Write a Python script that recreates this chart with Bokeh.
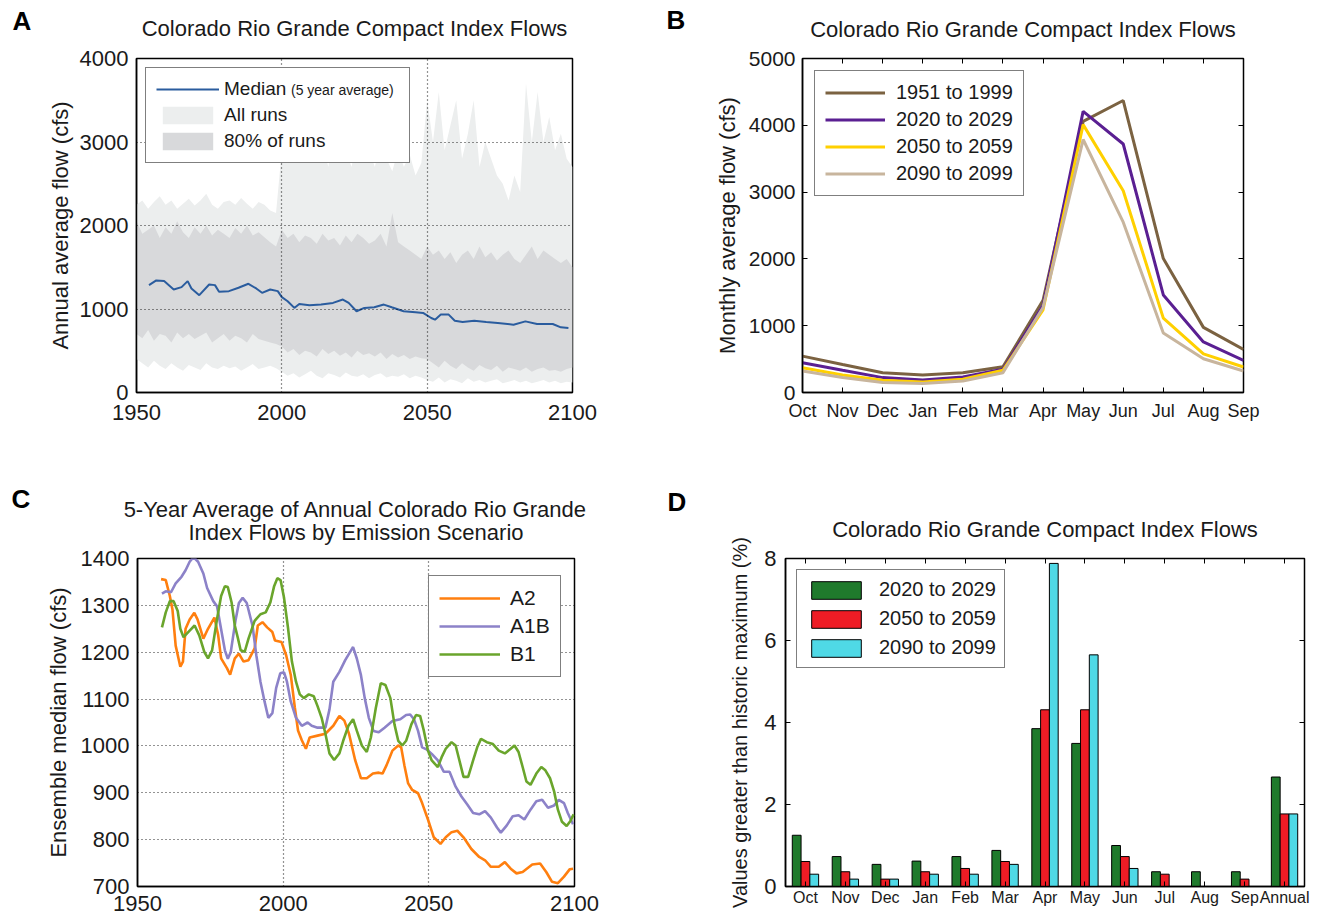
from bokeh.plotting import figure
from bokeh.models import (Range1d, FixedTicker, LinearAxis, Legend, LegendItem,
                          CustomJSTickFormatter, Div)
from bokeh.layouts import column, row
from bokeh.embed import file_html
from bokeh.resources import INLINE

FONT = "Liberation Sans"
INK = "#1a1a1a"

# ---------------- Panel A data ----------------
band_years = list(range(1950, 2101, 2))
all_upper = [2250, 2300, 2200, 2280, 2350, 2250, 2300, 2200, 2260, 2320, 2240, 2300, 2380,
             2250, 2200, 2280, 2300, 2250, 2330, 2260, 2200, 2280, 2250, 2180, 2150,
             2900, 3200, 2800, 3400, 2900, 3100, 2800, 3000, 2700, 3300, 2800, 2900, 2700,
             3100, 2750, 2900, 2700, 3000, 2800, 2650, 2900, 2700, 2850, 2600, 2750,
             3500, 3000, 3600, 2900, 3200, 3500, 2800, 3100, 3500, 2700, 3000, 2800, 2600,
             2500, 2300, 2600, 2400, 3700, 3000, 3600, 3000, 3300, 2900, 3100, 2800, 2700]
all_lower = [400, 350, 300, 380, 320, 280, 350, 300, 260, 330, 300, 270, 350,
             300, 280, 320, 290, 310, 260, 300, 340, 280, 300, 320, 290,
             250, 200, 230, 180, 220, 260, 200, 170, 230, 210, 180, 240, 200,
             190, 220, 170, 210, 230, 180, 200, 190, 220, 170, 200, 180,
             150, 130, 180, 120, 160, 140, 110, 170, 130, 150, 120, 140, 160,
             110, 130, 150, 120, 140, 110, 130, 150, 120, 140, 110, 130, 120]
p80_upper = [2050, 1900, 1950, 2000, 1850, 1980, 1900, 2050, 1920, 1850, 1980, 1900, 2000,
             1880, 1950, 1900, 1850, 1970, 1900, 2000, 1880, 1920, 1860, 1800, 1750,
             1950, 1850, 1900, 1800, 1880, 1850, 1780, 1900, 1820, 1850, 1760, 1880, 1800,
             1900, 1850, 1780, 1820, 1900, 1750, 2150, 1800, 1750, 1700, 1650, 1600,
             1750, 1650, 1700, 1600, 1680, 1550, 1650, 1700, 1600, 1750, 1620, 1680, 1580,
             1650, 1700, 1600, 1550, 1650, 1750, 1600, 1700, 1650, 1600, 1550, 1600, 1500]
p80_lower = [700, 650, 750, 620, 700, 680, 600, 720, 650, 700, 640, 680, 720,
             600, 650, 700, 620, 680, 650, 600, 700, 640, 620, 600, 580,
             550, 480, 520, 450, 500, 480, 430, 520, 460, 500, 440, 480, 420,
             500, 450, 470, 430, 480, 400, 460, 420, 450, 400, 430, 410,
             400, 350, 300, 380, 320, 280, 350, 300, 260, 330, 290, 270, 320,
             250, 300, 280, 260, 300, 250, 280, 300, 260, 270, 250, 280, 300]
med_years = [1954.3, 1956.8, 1959.5, 1962.8, 1965.5, 1967.6, 1968.9, 1971.6, 1975.0, 1977.0,
             1978.4, 1981.8, 1985.1, 1988.5, 1991.2, 1993.2, 1996.0, 1998.6, 2000.0, 2002.0,
             2004.3, 2006.0, 2009.5, 2013.5, 2017.6, 2021.0, 2023.0, 2025.7, 2028.4, 2031.8,
             2035.1, 2037.8, 2041.9, 2046.0, 2048.6, 2051.4, 2052.7, 2054.7, 2057.4, 2059.5,
             2062.2, 2066.2, 2070.3, 2074.3, 2079.7, 2083.8, 2087.8, 2093.2, 2096.0, 2098.6]
med_vals = [1286, 1342, 1335, 1234, 1262, 1334, 1246, 1166, 1294, 1286,
            1206, 1214, 1254, 1302, 1246, 1194, 1234, 1214, 1142, 1093,
            1013, 1061, 1045, 1053, 1073, 1113, 1073, 973, 1013, 1021,
            1053, 1021, 973, 961, 953, 892, 872, 933, 933, 860,
            844, 860, 844, 832, 812, 852, 820, 820, 780, 772]
a_xticks = [1950, 2000, 2050, 2100]
a_yticks = [0, 1000, 2000, 3000, 4000]

# ---------------- Panel B data ----------------
months = ["Oct", "Nov", "Dec", "Jan", "Feb", "Mar", "Apr", "May", "Jun", "Jul", "Aug", "Sep"]
b_1951_1999 = [545, 420, 297, 262, 297, 386, 1380, 4059, 4371, 2005, 975, 644]
b_2020_2029 = [446, 332, 223, 188, 233, 347, 1302, 4208, 3720, 1460, 757, 480]
b_2050_2059 = [371, 262, 183, 158, 198, 332, 1238, 4010, 3020, 1114, 579, 381]
b_2090_2099 = [322, 223, 149, 134, 173, 297, 1272, 3787, 2550, 891, 505, 322]
b_yticks = [0, 1000, 2000, 3000, 4000, 5000]

# ---------------- Panel C data ----------------
a2_x = [1958.1, 1959.7, 1961.1, 1962.0, 1963.1, 1964.7, 1965.6, 1966.5, 1967.9, 1969.5,
        1970.6, 1972.6, 1974.2, 1976.4, 1977.7, 1978.7, 1980.7, 1981.8, 1983.4, 1984.8,
        1986.4, 1988.1, 1990.2, 1991.3, 1992.9, 1994.5, 1996.3, 1997.2, 1999.4, 2001.0,
        2002.6, 2004.0, 2005.1, 2006.4, 2007.8, 2009.1, 2011.8, 2014.5, 2017.2, 2019.3,
        2021.0, 2022.6, 2024.7, 2026.7, 2028.7, 2030.8, 2032.8, 2034.1, 2035.5, 2037.5,
        2039.5, 2040.5, 2041.6, 2042.9, 2044.3, 2046.3, 2047.7, 2049.7, 2051.7, 2054.0,
        2055.8, 2057.8, 2059.8, 2061.9, 2064.6, 2067.3, 2069.3, 2071.3, 2074.0, 2076.1,
        2078.1, 2080.1, 2082.2, 2085.5, 2088.2, 2090.3, 2092.3, 2094.3, 2096.4, 2098.4,
        2099.5]
a2_y = [1356, 1354, 1320, 1291, 1214, 1169, 1180, 1250, 1270, 1284,
        1270, 1229, 1250, 1274, 1236, 1187, 1166, 1152, 1187, 1197,
        1180, 1183, 1208, 1257, 1264, 1253, 1243, 1225, 1222, 1194,
        1152, 1082, 1033, 1012, 994, 1018, 1022, 1026, 1043, 1064,
        1054, 1026, 970, 931, 931, 941, 943, 941, 959, 990,
        1001, 997, 959, 920, 906, 899, 878, 843, 805, 791,
        805, 816, 819, 805, 780, 763, 756, 742, 742, 752,
        738, 728, 731, 747, 749, 731, 710, 707, 721, 737,
        738]
a1b_x = [1958.4, 1959.7, 1961.5, 1963.1, 1965.1, 1966.5, 1967.9, 1969.2, 1970.8, 1972.6,
         1973.9, 1976.0, 1977.3, 1978.7, 1980.0, 1981.0, 1982.0, 1983.7, 1984.8, 1986.1,
         1987.5, 1989.5, 1990.8, 1992.2, 1993.6, 1994.9, 1996.3, 1997.6, 1999.0, 2000.3,
         2001.3, 2002.6, 2004.4, 2006.4, 2008.4, 2009.8, 2011.8, 2014.5, 2015.9, 2017.2,
         2019.3, 2021.3, 2023.3, 2024.0, 2025.3, 2026.7, 2028.0, 2029.4, 2031.0, 2032.8,
         2034.8, 2037.5, 2040.2, 2042.2, 2043.6, 2044.9, 2046.3, 2047.7, 2049.4, 2051.0,
         2053.1, 2055.1, 2057.1, 2059.2, 2061.2, 2063.2, 2065.2, 2067.3, 2069.3, 2071.3,
         2073.4, 2074.7, 2076.7, 2078.8, 2080.8, 2082.8, 2084.9, 2086.9, 2088.9, 2090.9,
         2093.0, 2094.6, 2096.4, 2097.7, 2099.5]
a1b_y = [1325, 1330, 1328, 1347, 1361, 1375, 1393, 1403, 1393, 1368,
         1337, 1309, 1298, 1249, 1204, 1186, 1200, 1270, 1305, 1316,
         1305, 1256, 1193, 1137, 1095, 1060, 1070, 1124, 1155, 1157,
         1137, 1095, 1060, 1043, 1050, 1043, 1039, 1039, 1078, 1137,
         1158, 1183, 1204, 1211, 1186, 1151, 1102, 1060, 1032, 1029,
         1039, 1053, 1057, 1066, 1067, 1057, 1032, 997, 992, 983,
         969, 945, 945, 913, 892, 875, 857, 854, 861, 847,
         826, 815, 830, 850, 852, 843, 864, 882, 885, 868,
         873, 885, 878, 857, 833]
b1_x = [1958.4, 1959.7, 1961.1, 1962.4, 1963.8, 1964.7, 1965.8, 1967.9, 1969.6, 1971.2,
        1972.9, 1974.2, 1975.6, 1977.3, 1978.7, 1980.0, 1981.0, 1982.3, 1983.4, 1984.5,
        1985.4, 1986.8, 1988.1, 1990.2, 1992.2, 1994.0, 1995.6, 1996.9, 1998.0, 1999.1,
        2000.3, 2001.7, 2003.0, 2004.4, 2005.7, 2007.1, 2008.8, 2010.5, 2011.8, 2013.2,
        2014.5, 2015.9, 2017.5, 2019.3, 2020.6, 2022.4, 2024.0, 2025.3, 2027.0, 2028.7,
        2030.1, 2031.8, 2033.5, 2035.1, 2036.8, 2038.2, 2039.5, 2040.9, 2042.2, 2044.0,
        2045.6, 2047.0, 2048.3, 2049.7, 2051.0, 2053.1, 2054.4, 2055.8, 2057.8, 2059.2,
        2060.5, 2061.9, 2063.5, 2065.2, 2066.6, 2067.9, 2069.9, 2072.0, 2074.0, 2076.1,
        2078.1, 2079.4, 2080.8, 2082.2, 2083.5, 2084.9, 2086.9, 2088.6, 2090.0, 2091.6,
        2093.0, 2094.3, 2095.7, 2097.3, 2098.6, 2099.7]
b1_y = [1253, 1285, 1309, 1309, 1288, 1250, 1232, 1246, 1257, 1236,
        1201, 1187, 1204, 1271, 1320, 1341, 1339, 1306, 1257, 1229,
        1204, 1201, 1229, 1267, 1281, 1285, 1306, 1341, 1358, 1354,
        1316, 1250, 1180, 1137, 1110, 1102, 1110, 1106, 1085, 1060,
        1026, 984, 970, 984, 1011, 1043, 1057, 1032, 1001, 987,
        1018, 1081, 1134, 1130, 1102, 1046, 1011, 1001, 1011, 1046,
        1066, 1064, 1032, 990, 969, 955, 976, 994, 1008, 1001,
        969, 934, 934, 969, 997, 1015, 1008, 1004, 990, 984,
        994, 1001, 987, 955, 924, 917, 941, 955, 948, 931,
        903, 864, 838, 829, 840, 854]
c_xticks = [1950, 2000, 2050, 2100]
c_yticks = [700, 800, 900, 1000, 1100, 1200, 1300, 1400]

# ---------------- Panel D data ----------------
d_categories = ["Oct", "Nov", "Dec", "Jan", "Feb", "Mar", "Apr", "May", "Jun",
                "Jul", "Aug", "Sep", "Annual"]
d_2020_2029 = [1.25, 0.73, 0.54, 0.62, 0.73, 0.88, 3.85, 3.49, 1.00, 0.36, 0.36, 0.36, 2.67]
d_2050_2059 = [0.61, 0.36, 0.18, 0.36, 0.44, 0.61, 4.31, 4.31, 0.73, 0.30, 0.00, 0.18, 1.77]
d_2090_2099 = [0.30, 0.18, 0.18, 0.30, 0.30, 0.54, 7.88, 5.65, 0.44, 0.00, 0.00, 0.00, 1.77]
d_yticks = [0, 2, 4, 6, 8]


# ---------------- helpers ----------------
def make_fig(width, height, xr, yr, left, right, top, bottom):
    p = figure(width=width, height=height, x_range=xr, y_range=yr, title=None,
               output_backend="svg", toolbar_location=None,
               min_border_left=left, min_border_right=right,
               min_border_top=top, min_border_bottom=bottom)
    p.outline_line_color = "black"
    p.outline_line_width = 1.5
    p.outline_line_alpha = 1.0
    p.background_fill_color = "white"
    p.border_fill_color = "white"
    return p


def style_axes(p, xticks, yticks, xfs, yfs, xstand, ystand, ylabel, ylfs, ylstand, ticks_in,
               xlabels=None):
    # called before any extra axis is added, so only the bottom and left axes are touched
    xax = p.below[0]
    yax = p.left[0]
    xax.ticker = FixedTicker(ticks=xticks)
    yax.ticker = FixedTicker(ticks=yticks)
    if xlabels is not None:
        xax.major_label_overrides = {t: lab for t, lab in zip(xticks, xlabels)}
    xax.major_label_text_font_size = xfs
    yax.major_label_text_font_size = yfs
    xax.major_label_standoff = xstand
    yax.major_label_standoff = ystand
    yax.axis_label = ylabel
    yax.axis_label_text_font_size = ylfs
    yax.axis_label_standoff = ylstand
    for ax in (xax, yax):
        ax.major_label_text_font = FONT
        ax.major_label_text_color = INK
        ax.axis_label_text_font = FONT
        ax.axis_label_text_font_style = "normal"
        ax.axis_label_text_color = INK
        ax.axis_line_color = "black"
        ax.axis_line_width = 1.5
        ax.minor_tick_line_color = None
        ax.major_tick_out = 0
        if ticks_in:
            ax.major_tick_in = 5
            ax.major_tick_line_color = "black"
            ax.major_tick_line_width = 1
        else:
            ax.major_tick_in = 0
            ax.major_tick_line_color = None


def top_axis(p, title, standoff, ticks=(), size="22px"):
    """Mirror axis on top of the frame (ticks only); its axis label carries the title."""
    ax = LinearAxis(ticker=FixedTicker(ticks=list(ticks)),
                    formatter=CustomJSTickFormatter(code="return ''"),
                    major_tick_in=5 if ticks else 0, major_tick_out=0,
                    major_tick_line_color="black" if ticks else None,
                    minor_tick_line_color=None, axis_line_color=None,
                    major_label_standoff=0, major_label_text_font_size="1px",
                    axis_label=title, axis_label_standoff=standoff,
                    axis_label_text_font=FONT, axis_label_text_font_size=size,
                    axis_label_text_font_style="normal", axis_label_text_color=INK)
    p.add_layout(ax, "above")


def right_axis(p, ticks):
    ax = LinearAxis(ticker=FixedTicker(ticks=list(ticks)),
                    formatter=CustomJSTickFormatter(code="return ''"),
                    major_tick_in=5, major_tick_out=0, major_tick_line_color="black",
                    minor_tick_line_color=None, axis_line_color=None,
                    major_label_standoff=0, major_label_text_font_size="1px")
    p.add_layout(ax, "right")


def dotted_grid(p, level="underlay"):
    p.grid.grid_line_color = "black"
    p.grid.grid_line_dash = "1 3"
    p.grid.grid_line_width = 1.2
    p.grid.grid_line_alpha = 0.85
    p.grid.level = level


def style_legend(leg, fs, gw, gh, spacing, padding, standoff):
    leg.label_text_font = FONT
    leg.label_text_font_size = fs
    leg.label_text_color = INK
    leg.glyph_width = gw
    leg.glyph_height = gh
    leg.label_height = gh
    leg.spacing = spacing
    leg.padding = padding
    leg.label_standoff = standoff
    leg.border_line_color = "black"
    leg.border_line_width = 1.5
    leg.background_fill_color = "white"
    leg.background_fill_alpha = 1.0


def letter_div(text, width, top):
    return Div(text=text, width=width, height=26, margin=(top, 0, 0, 0),
               styles={"font-family": FONT, "font-size": "26px", "font-weight": "bold",
                       "line-height": "26px", "text-align": "center", "color": "black",
                       "width": f"{width}px"})


# ---------------- Panel A ----------------
pA = make_fig(604, 450, Range1d(1950, 2100), Range1d(0, 4000), 91, 76, 58, 58)
style_axes(pA, a_xticks, a_yticks, "22px", "22px", 12, 8,
           "Annual average flow (cfs)", "22px", 4, ticks_in=False)
top_axis(pA, "Colorado Rio Grande Compact Index Flows", 18)
rA_all = pA.varea(x=band_years, y1=all_lower, y2=all_upper, fill_color="#eceeee")
rA_80 = pA.varea(x=band_years, y1=p80_lower, y2=p80_upper, fill_color="#d8d9db")
rA_med = pA.line(med_years, med_vals, line_color="#2a5c9e", line_width=2)
dotted_grid(pA, level="guide")
legA = Legend(items=[LegendItem(label="Median", renderers=[rA_med]),
                     LegendItem(label="All runs", renderers=[rA_all]),
                     LegendItem(label="80% of runs", renderers=[rA_80])],
              location="top_left")
style_legend(legA, "19px", 63, 22, 4, 10, 5)
legA.margin = 9
legA.label_width = 175
pA.add_layout(legA)
legA_note = Legend(items=[LegendItem(label="(5 year average)", renderers=[rA_med])],
                   location=(155, 294))
style_legend(legA_note, "14px", 0, 16, 0, 0, 0)
legA_note.border_line_color = None
legA_note.background_fill_alpha = 0.0
legA_note.margin = 0
pA.add_layout(legA_note)

# ---------------- Panel B ----------------
month_idx = list(range(len(months)))
pB = make_fig(621, 450, Range1d(0, len(months) - 1), Range1d(0, 5000), 98, 82, 55, 58)
style_axes(pB, month_idx, b_yticks, "18px", "21px", 8, 7,
           "Monthly average flow (cfs)", "22px", 6, ticks_in=True, xlabels=months)
top_axis(pB, "Colorado Rio Grande Compact Index Flows", 17, ticks=month_idx)
right_axis(pB, b_yticks)
pB.grid.grid_line_color = None
rB1 = pB.line(month_idx, b_1951_1999, line_color="#7b6241", line_width=3)
rB2 = pB.line(month_idx, b_2020_2029, line_color="#5a1f92", line_width=3)
rB3 = pB.line(month_idx, b_2050_2059, line_color="#ffd000", line_width=3)
rB4 = pB.line(month_idx, b_2090_2099, line_color="#c8b59d", line_width=3)
legB = Legend(items=[LegendItem(label="1951 to 1999", renderers=[rB1]),
                     LegendItem(label="2020 to 2029", renderers=[rB2]),
                     LegendItem(label="2050 to 2059", renderers=[rB3]),
                     LegendItem(label="2090 to 2099", renderers=[rB4])],
              location="top_left")
style_legend(legB, "20px", 60, 23, 4, 10, 11)
legB.margin = 12
pB.add_layout(legB)

# ---------------- Panel C ----------------
pC = make_fig(606, 470, Range1d(1950, 2100), Range1d(700, 1400), 93, 74, 107, 34)
style_axes(pC, c_xticks, c_yticks, "22px", "22px", 9, 8,
           "Ensemble median flow (cfs)", "22px", 7, ticks_in=False)
top_axis(pC, "Index Flows by Emission Scenario", 14)
top_axis(pC, "5-Year Average of Annual Colorado Rio Grande", -5)
dotted_grid(pC)
rC1 = pC.line(a2_x, a2_y, line_color="#ff7f0f", line_width=2.6)
rC2 = pC.line(a1b_x, a1b_y, line_color="#8c82c8", line_width=2.6)
rC3 = pC.line(b1_x, b1_y, line_color="#6aa52c", line_width=2.6)
legC = Legend(items=[LegendItem(label="A2", renderers=[rC1]),
                     LegendItem(label="A1B", renderers=[rC2]),
                     LegendItem(label="B1", renderers=[rC3])],
              location=(291, 209))
style_legend(legC, "21px", 61, 22, 4, 10, 10)
pC.add_layout(legC)

# ---------------- Panel D ----------------
d_idx = list(range(1, len(d_categories) + 1))
bw = 0.22
pD = make_fig(619, 470, Range1d(0.5, len(d_categories) + 0.5), Range1d(0, 8), 79, 21, 108, 32)
style_axes(pD, d_idx, d_yticks, "16px", "22px", 2, 9,
           "Values greater than historic maximum (%)", "20px", 10, ticks_in=True,
           xlabels=d_categories)
top_axis(pD, "Colorado Rio Grande Compact Index Flows", 17, ticks=d_idx)
right_axis(pD, d_yticks)
pD.grid.grid_line_color = None
rD1 = pD.vbar(x=[i - bw for i in d_idx], top=d_2020_2029, width=bw, bottom=0,
              fill_color="#1f7a2c", line_color="black", line_width=1)
rD2 = pD.vbar(x=d_idx, top=d_2050_2059, width=bw, bottom=0,
              fill_color="#ee1c25", line_color="black", line_width=1)
rD3 = pD.vbar(x=[i + bw for i in d_idx], top=d_2090_2099, width=bw, bottom=0,
              fill_color="#4fd9e6", line_color="black", line_width=1)
legD = Legend(items=[LegendItem(label="2020 to 2029", renderers=[rD1]),
                     LegendItem(label="2050 to 2059", renderers=[rD2]),
                     LegendItem(label="2090 to 2099", renderers=[rD3])],
              location="top_left")
style_legend(legD, "20px", 62, 22, 6, 8, 12)
legD.margin = 11
pD.add_layout(legD)

layout = column(
    row(letter_div("A", 44, 8), pA, letter_div("B", 56, 7), pB),
    row(letter_div("C", 42, 36), pC, letter_div("D", 58, 39), pD),
)
open("out.html", "w").write(file_html(layout, INLINE))
